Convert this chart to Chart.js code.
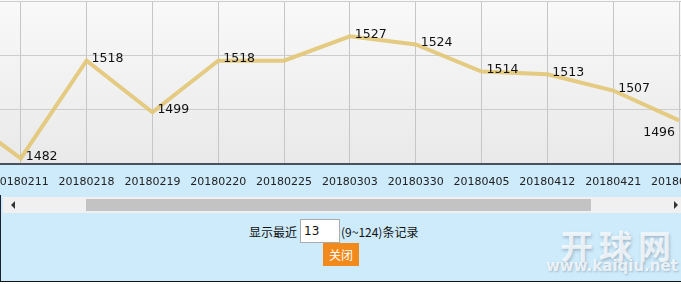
<!DOCTYPE html>
<html>
<head>
<meta charset="utf-8">
<script src="https://cdn.jsdelivr.net/npm/chart.js@4/dist/chart.umd.min.js"></script>
<style>
  body { margin: 0; background: #fff; font-family: "DejaVu Sans", Verdana, sans-serif; }
  #wrap { position: relative; width: 681px; height: 281px; background: #cdebfb; border-bottom: 1px solid #111; overflow: hidden; }
  #chartBox { position: absolute; left: 0; top: 0; width: 681px; height: 196px; overflow: hidden; }
  #chartInner { position: absolute; left: -78px; top: 0; width: 797px; height: 209px; }
  #leftEdge { position: absolute; left: 0; top: 195px; width: 1px; height: 87px; background: #1a2030; }
  #track { position: absolute; left: 3px; top: 197px; width: 678px; height: 16px; background: #f0f0f0; }
  #thumb { position: absolute; left: 83px; top: 2px; width: 505px; height: 12px; background: #c3c3c3; }
  .arrowL { position: absolute; left: 8px; top: 4px; width: 0; height: 0; border-top: 4px solid transparent; border-bottom: 4px solid transparent; border-right: 4px solid #333; }
  .arrowR { position: absolute; right: 3px; top: 4px; width: 0; height: 0; border-top: 4px solid transparent; border-bottom: 4px solid transparent; border-left: 4px solid #333; }
  #ctrl { position: absolute; left: 249px; top: 219px; font-family: "Noto Sans CJK SC", sans-serif; font-size: 12px; color: #111; }
  #ctrl span { position: absolute; top: 4px; white-space: nowrap; }
  #num { position: absolute; left: 51px; top: 0; width: 40px; height: 24px; background: #fff; border: 1px solid #aaa; box-sizing: border-box; font-family: "DejaVu Sans", sans-serif; font-size: 12px; padding: 4px 3px; }
  #btn { position: absolute; left: 323px; top: 243px; width: 36px; height: 23px; background: #f28a1b; color: #fff; font-family: "Noto Sans CJK SC", sans-serif; font-size: 12px; text-align: center; line-height: 23px; }
  #mark1 { position: absolute; left: 560px; top: 221px; font-family: "Noto Sans CJK SC", sans-serif; font-weight: bold; font-size: 33px; letter-spacing: 6px; color: rgba(255,255,255,0.75); text-shadow: 1px 2px 3px rgba(120,140,160,0.5); }
  #mark2 { position: absolute; left: 546px; top: 257px; font-family: "DejaVu Sans", sans-serif; font-weight: bold; font-size: 15px; color: rgba(255,255,255,0.75); text-shadow: 1px 1px 2px rgba(120,140,160,0.5); }
</style>
</head>
<body>
<div id="wrap">
  <div id="chartBox"><div id="chartInner"><canvas id="rateChart" width="797" height="209"></canvas></div></div>
  <div id="track"><div class="arrowL"></div><div id="thumb"></div><div class="arrowR"></div></div>
  <div id="leftEdge"></div>
  <div id="mark1">开球网</div>
  <div id="mark2">www.kaiqiu.net</div>
  <div id="ctrl">
    <span style="left:0">显示最近</span>
    <div id="num">13</div>
    <span style="left:92px">(9~124)条记录</span>
  </div>
  <div id="btn">关闭</div>
</div>
<script>
// first and last dates are cut off in the picture
const dates = ['', '20180211', '20180218', '20180219', '20180220', '20180225', '20180303', '20180330', '20180405', '20180412', '20180421', '20180428'];
const ratings = [1500, 1482, 1518, 1499, 1518, 1518, 1527, 1524, 1514, 1513, 1507, 1496];
const yMin = 1480, yMax = 1540, yStep = 20;

const bgPlugin = {
    id: 'bg',
    beforeDraw(chart){
        const a = chart.chartArea, c = chart.ctx;
        const g = c.createLinearGradient(0, a.top, 0, a.bottom);
        g.addColorStop(0, '#f9f9f9');
        g.addColorStop(1, '#e9e9e9');
        c.save();
        c.fillStyle = g;
        c.fillRect(a.left, 0, a.right - a.left, a.bottom);
        c.restore();
    }
};

const labelPlugin = {
    id: 'vals',
    afterDatasetsDraw(chart){
        const c = chart.ctx;
        const meta = chart.getDatasetMeta(0);
        c.save();
        c.font = '12.5px "DejaVu Sans"';
        c.fillStyle = '#111';
        c.textBaseline = 'middle';
        for(let i=1;i<ratings.length;i++){
            if(ratings[i]===ratings[i-1]) continue;
            const p = meta.data[i];
            if(i===ratings.length-1){
                c.textAlign = 'right';
                c.fillText(ratings[i], p.x-4, p.y+12);
            } else {
                c.textAlign = 'left';
                c.fillText(ratings[i], p.x+5, p.y-2);
            }
        }
        c.restore();
    }
};

const ctx = document.getElementById('rateChart').getContext('2d');
const chart = new Chart(ctx, {
    type: 'line',
    data: { labels: dates, datasets: [{ data: ratings, borderColor: 'rgba(226,198,116,0.9)', borderWidth: 4, pointRadius: 0, tension: 0, fill: false }] },
    options: {
        responsive: false, animation: false, devicePixelRatio: 1,
        layout: { padding: { top: 1, left: 0, right: 0, bottom: 8 } },
        plugins: { legend: { display: false }, tooltip: { enabled: false } },
        scales: {
            x: {
                offset: true,
                grid: { color: '#c6c6c6', drawTicks: false, offset: false },
                border: { color: '#4b505c', width: 2 },
                ticks: { color: '#222', font: { family: 'DejaVu Sans', size: 11 }, padding: 12, maxRotation: 0, autoSkip: false }
            },
            y: {
                min: yMin, max: yMax,
                ticks: { stepSize: yStep, display: false },
                grid: { color: '#cdcdcd', drawTicks: false },
                border: { display: false },
                afterFit(s){ s.width = 0; }
            }
        }
    },
    plugins: [bgPlugin, labelPlugin]
});
</script>
</body>
</html>
